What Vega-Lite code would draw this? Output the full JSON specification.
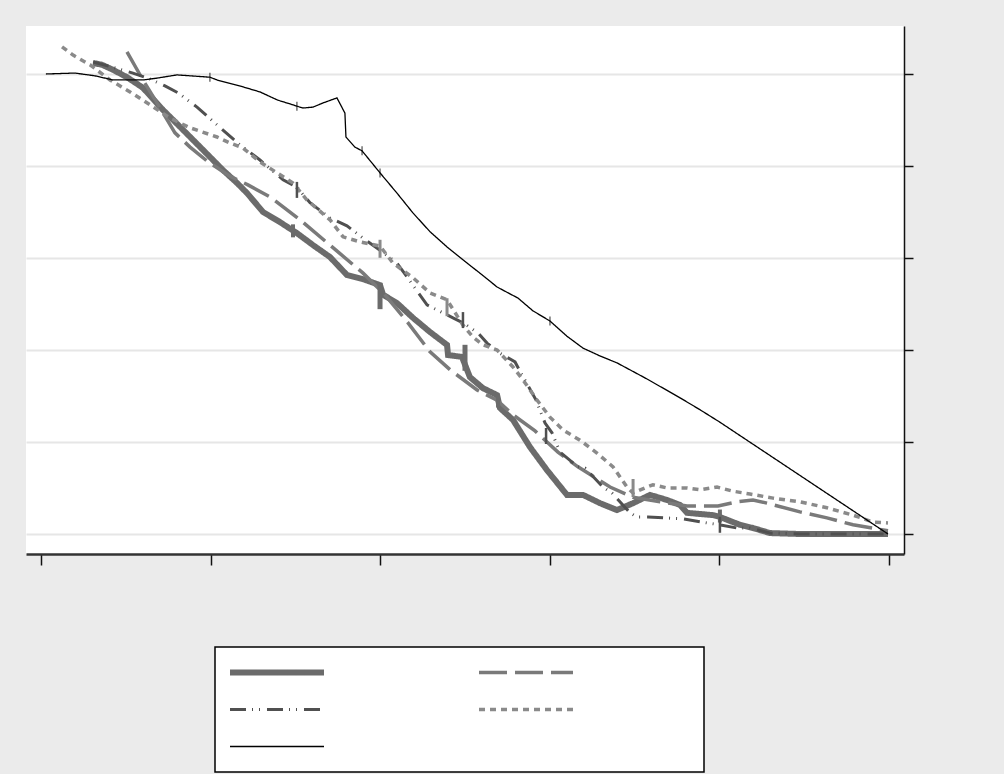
{
  "$schema": "https://vega.github.io/schema/vega-lite/v6.json",
  "width": 878,
  "height": 528,
  "autosize": {"type": "none"},
  "padding": {"left": 26, "top": 26, "right": 100, "bottom": 220},
  "background": "#ebebeb",
  "view": {"fill": "white", "stroke": null},
  "datasets": {
    "lines": [
      {"series":"s1","x":0.307,"y":1.024},{"series":"s1","x":0.360,"y":1.020},{"series":"s1","x":0.425,"y":1.009},{"series":"s1","x":0.507,"y":0.993},{"series":"s1","x":0.601,"y":0.970},{"series":"s1","x":0.719,"y":0.922},{"series":"s1","x":0.820,"y":0.885},{"series":"s1","x":0.955,"y":0.835},{"series":"s1","x":1.073,"y":0.791},{"series":"s1","x":1.156,"y":0.763},{"series":"s1","x":1.215,"y":0.741},{"series":"s1","x":1.309,"y":0.700},{"series":"s1","x":1.409,"y":0.678},{"series":"s1","x":1.509,"y":0.654},{"series":"s1","x":1.604,"y":0.628},{"series":"s1","x":1.704,"y":0.602},{"series":"s1","x":1.804,"y":0.563},{"series":"s1","x":1.899,"y":0.554},{"series":"s1","x":1.999,"y":0.541},{"series":"s1","x":2.017,"y":0.520},{"series":"s1","x":2.099,"y":0.502},{"series":"s1","x":2.193,"y":0.470},{"series":"s1","x":2.294,"y":0.439},{"series":"s1","x":2.394,"y":0.411},{"series":"s1","x":2.400,"y":0.389},{"series":"s1","x":2.482,"y":0.385},{"series":"s1","x":2.529,"y":0.341},{"series":"s1","x":2.606,"y":0.317},{"series":"s1","x":2.689,"y":0.302},{"series":"s1","x":2.706,"y":0.274},{"series":"s1","x":2.783,"y":0.248},{"series":"s1","x":2.883,"y":0.189},{"series":"s1","x":2.983,"y":0.139},{"series":"s1","x":3.101,"y":0.085},{"series":"s1","x":3.196,"y":0.085},{"series":"s1","x":3.296,"y":0.067},{"series":"s1","x":3.396,"y":0.052},{"series":"s1","x":3.491,"y":0.067},{"series":"s1","x":3.591,"y":0.085},{"series":"s1","x":3.691,"y":0.074},{"series":"s1","x":3.768,"y":0.063},{"series":"s1","x":3.809,"y":0.046},{"series":"s1","x":3.962,"y":0.041},{"series":"s1","x":4.003,"y":0.037},{"series":"s1","x":4.121,"y":0.020},{"series":"s1","x":4.198,"y":0.013},{"series":"s1","x":4.298,"y":0.002},{"series":"s1","x":4.475,"y":0.0},{"series":"s1","x":4.994,"y":0.0},
      {"series":"s2","x":0.507,"y":1.048},{"series":"s2","x":0.601,"y":0.987},{"series":"s2","x":0.684,"y":0.937},{"series":"s2","x":0.790,"y":0.872},{"series":"s2","x":0.879,"y":0.841},{"series":"s2","x":0.985,"y":0.809},{"series":"s2","x":1.114,"y":0.778},{"series":"s2","x":1.220,"y":0.759},{"series":"s2","x":1.350,"y":0.733},{"series":"s2","x":1.527,"y":0.683},{"series":"s2","x":1.739,"y":0.617},{"series":"s2","x":1.899,"y":0.567},{"series":"s2","x":2.028,"y":0.520},{"series":"s2","x":2.164,"y":0.459},{"series":"s2","x":2.294,"y":0.396},{"series":"s2","x":2.412,"y":0.357},{"series":"s2","x":2.571,"y":0.313},{"series":"s2","x":2.689,"y":0.291},{"series":"s2","x":2.783,"y":0.259},{"series":"s2","x":2.913,"y":0.224},{"series":"s2","x":3.048,"y":0.178},{"series":"s2","x":3.166,"y":0.146},{"series":"s2","x":3.355,"y":0.102},{"series":"s2","x":3.491,"y":0.080},{"series":"s2","x":3.650,"y":0.070},{"series":"s2","x":3.809,"y":0.061},{"series":"s2","x":3.992,"y":0.061},{"series":"s2","x":4.104,"y":0.070},{"series":"s2","x":4.198,"y":0.074},{"series":"s2","x":4.281,"y":0.067},{"series":"s2","x":4.475,"y":0.048},{"series":"s2","x":4.634,"y":0.035},{"series":"s2","x":4.788,"y":0.020},{"series":"s2","x":4.994,"y":0.007},
      {"series":"s3","x":0.307,"y":1.026},{"series":"s3","x":0.419,"y":1.015},{"series":"s3","x":0.542,"y":1.002},{"series":"s3","x":0.643,"y":0.989},{"series":"s3","x":0.731,"y":0.974},{"series":"s3","x":0.808,"y":0.959},{"series":"s3","x":0.920,"y":0.928},{"series":"s3","x":1.073,"y":0.878},{"series":"s3","x":1.173,"y":0.846},{"series":"s3","x":1.291,"y":0.813},{"series":"s3","x":1.427,"y":0.770},{"series":"s3","x":1.509,"y":0.754},{"series":"s3","x":1.586,"y":0.720},{"series":"s3","x":1.704,"y":0.687},{"series":"s3","x":1.804,"y":0.670},{"series":"s3","x":1.899,"y":0.643},{"series":"s3","x":1.999,"y":0.617},{"series":"s3","x":2.099,"y":0.589},{"series":"s3","x":2.193,"y":0.541},{"series":"s3","x":2.276,"y":0.498},{"series":"s3","x":2.335,"y":0.487},{"series":"s3","x":2.429,"y":0.470},{"series":"s3","x":2.488,"y":0.459},{"series":"s3","x":2.577,"y":0.437},{"series":"s3","x":2.630,"y":0.415},{"series":"s3","x":2.706,"y":0.393},{"series":"s3","x":2.795,"y":0.374},{"series":"s3","x":2.836,"y":0.346},{"series":"s3","x":2.919,"y":0.291},{"series":"s3","x":2.972,"y":0.241},{"series":"s3","x":3.013,"y":0.220},{"series":"s3","x":3.060,"y":0.178},{"series":"s3","x":3.166,"y":0.146},{"series":"s3","x":3.208,"y":0.143},{"series":"s3","x":3.314,"y":0.102},{"series":"s3","x":3.367,"y":0.089},{"series":"s3","x":3.473,"y":0.046},{"series":"s3","x":3.514,"y":0.037},{"series":"s3","x":3.579,"y":0.037},{"series":"s3","x":3.785,"y":0.033},{"series":"s3","x":3.927,"y":0.024},{"series":"s3","x":4.003,"y":0.020},{"series":"s3","x":4.104,"y":0.013},{"series":"s3","x":4.180,"y":0.013},{"series":"s3","x":4.298,"y":0.002},{"series":"s3","x":4.475,"y":0.0},{"series":"s3","x":4.994,"y":0.0},
      {"series":"s4","x":0.124,"y":1.059},{"series":"s4","x":0.189,"y":1.041},{"series":"s4","x":0.289,"y":1.020},{"series":"s4","x":0.407,"y":0.987},{"series":"s4","x":0.525,"y":0.961},{"series":"s4","x":0.643,"y":0.933},{"series":"s4","x":0.761,"y":0.904},{"series":"s4","x":0.879,"y":0.883},{"series":"s4","x":1.038,"y":0.863},{"series":"s4","x":1.114,"y":0.850},{"series":"s4","x":1.191,"y":0.839},{"series":"s4","x":1.291,"y":0.809},{"series":"s4","x":1.392,"y":0.785},{"series":"s4","x":1.486,"y":0.763},{"series":"s4","x":1.568,"y":0.726},{"series":"s4","x":1.704,"y":0.683},{"series":"s4","x":1.781,"y":0.646},{"series":"s4","x":1.881,"y":0.635},{"series":"s4","x":1.999,"y":0.626},{"series":"s4","x":2.075,"y":0.589},{"series":"s4","x":2.193,"y":0.557},{"series":"s4","x":2.294,"y":0.524},{"series":"s4","x":2.394,"y":0.509},{"series":"s4","x":2.488,"y":0.454},{"series":"s4","x":2.547,"y":0.428},{"series":"s4","x":2.606,"y":0.411},{"series":"s4","x":2.689,"y":0.400},{"series":"s4","x":2.783,"y":0.363},{"series":"s4","x":2.842,"y":0.335},{"series":"s4","x":2.925,"y":0.291},{"series":"s4","x":3.001,"y":0.254},{"series":"s4","x":3.078,"y":0.226},{"series":"s4","x":3.178,"y":0.204},{"series":"s4","x":3.278,"y":0.176},{"series":"s4","x":3.373,"y":0.146},{"series":"s4","x":3.455,"y":0.102},{"series":"s4","x":3.491,"y":0.089},{"series":"s4","x":3.573,"y":0.102},{"series":"s4","x":3.608,"y":0.107},{"series":"s4","x":3.691,"y":0.100},{"series":"s4","x":3.809,"y":0.100},{"series":"s4","x":3.886,"y":0.096},{"series":"s4","x":3.986,"y":0.102},{"series":"s4","x":4.080,"y":0.093},{"series":"s4","x":4.180,"y":0.087},{"series":"s4","x":4.316,"y":0.078},{"series":"s4","x":4.475,"y":0.070},{"series":"s4","x":4.634,"y":0.057},{"series":"s4","x":4.788,"y":0.041},{"series":"s4","x":4.906,"y":0.026},{"series":"s4","x":4.994,"y":0.024},
      {"series":"s5","x":0.029,"y":1.000},{"series":"s5","x":0.200,"y":1.002},{"series":"s5","x":0.318,"y":0.996},{"series":"s5","x":0.425,"y":0.987},{"series":"s5","x":0.601,"y":0.987},{"series":"s5","x":0.684,"y":0.991},{"series":"s5","x":0.802,"y":0.998},{"series":"s5","x":0.996,"y":0.993},{"series":"s5","x":1.038,"y":0.987},{"series":"s5","x":1.191,"y":0.972},{"series":"s5","x":1.291,"y":0.961},{"series":"s5","x":1.397,"y":0.943},{"series":"s5","x":1.468,"y":0.935},{"series":"s5","x":1.509,"y":0.930},{"series":"s5","x":1.545,"y":0.926},{"series":"s5","x":1.604,"y":0.928},{"series":"s5","x":1.663,"y":0.937},{"series":"s5","x":1.745,"y":0.948},{"series":"s5","x":1.792,"y":0.915},{"series":"s5","x":1.798,"y":0.863},{"series":"s5","x":1.851,"y":0.841},{"series":"s5","x":1.893,"y":0.833},{"series":"s5","x":1.999,"y":0.785},{"series":"s5","x":2.099,"y":0.741},{"series":"s5","x":2.193,"y":0.698},{"series":"s5","x":2.294,"y":0.657},{"series":"s5","x":2.394,"y":0.624},{"series":"s5","x":2.488,"y":0.596},{"series":"s5","x":2.588,"y":0.567},{"series":"s5","x":2.689,"y":0.537},{"series":"s5","x":2.765,"y":0.522},{"series":"s5","x":2.812,"y":0.513},{"series":"s5","x":2.901,"y":0.485},{"series":"s5","x":3.001,"y":0.463},{"series":"s5","x":3.101,"y":0.430},{"series":"s5","x":3.196,"y":0.404},{"series":"s5","x":3.296,"y":0.387},{"series":"s5","x":3.396,"y":0.372},{"series":"s5","x":3.573,"y":0.337},{"series":"s5","x":3.768,"y":0.296},{"series":"s5","x":3.886,"y":0.270},{"series":"s5","x":4.003,"y":0.243},{"series":"s5","x":4.994,"y":0.0}
    ],
    "ticks": [
      {"series":"s5","x":0.996,"y":0.993},{"series":"s5","x":1.509,"y":0.930},{"series":"s5","x":1.893,"y":0.833},{"series":"s5","x":1.999,"y":0.785},{"series":"s5","x":3.001,"y":0.463},
      {"series":"s1big","x":1.999,"y":0.517},{"series":"s1big","x":2.500,"y":0.383},
      {"series":"s1","x":1.486,"y":0.659},{"series":"s1","x":2.695,"y":0.289},{"series":"s1","x":4.003,"y":0.039},
      {"series":"s3","x":1.509,"y":0.748},{"series":"s3","x":2.488,"y":0.465},{"series":"s3","x":2.978,"y":0.213},{"series":"s3","x":4.003,"y":0.020},
      {"series":"s4","x":1.999,"y":0.620},{"series":"s4","x":2.394,"y":0.493},{"series":"s4","x":3.491,"y":0.100}
    ]
  },
  "encoding": {
    "x": {"field": "x", "type": "quantitative", "scale": {"domain": [-0.0884, 5.0884], "nice": false, "zero": false},
      "axis": {"orient": "bottom", "values": [0,1,2,3,4,5], "labels": false, "title": null, "grid": false, "domainColor": "#333333", "domainWidth": 2.5, "tickColor": "#111111", "tickWidth": 1.5, "tickSize": 11}},
    "y": {"field": "y", "type": "quantitative", "scale": {"domain": [-0.0435, 1.1043], "nice": false, "zero": false},
      "axis": {"orient": "right", "values": [0,0.2,0.4,0.6,0.8,1.0], "labels": false, "title": null, "grid": true, "gridColor": "#e6e6e6", "gridWidth": 2, "domainColor": "#111111", "domainWidth": 1.5, "tickColor": "#111111", "tickWidth": 1.5, "tickSize": 9}}
  },
  "layer": [
    {
      "data": {"name": "lines"},
      "mark": {"type": "line", "strokeCap": "butt", "strokeJoin": "miter"},
      "encoding": {
        "color": {"field": "series", "type": "nominal",
          "scale": {"domain": ["s1","s2","s3","s4","s5"], "range": ["#6b6b6b","#7a7a7a","#505050","#8a8a8a","#000000"]},
          "legend": {"orient": "none", "legendX": 189, "legendY": 621, "direction": "horizontal", "columns": 2, "labelExpr": "''"}},
        "strokeDash": {"field": "series", "type": "nominal",
          "scale": {"domain": ["s1","s2","s3","s4","s5"], "range": [[1,0],[28,8],[16,6,1,6,1,7],[6,5],[1,0]]},
          "legend": {"orient": "none", "legendX": 189, "legendY": 621, "direction": "horizontal", "columns": 2, "labelExpr": "''"}},
        "strokeWidth": {"field": "series", "type": "nominal",
          "scale": {"type": "ordinal", "domain": ["s1","s2","s3","s4","s5"], "range": [6,3.5,3,3.5,1.3]},
          "legend": {"orient": "none", "legendX": 189, "legendY": 621, "direction": "horizontal", "columns": 2, "labelExpr": "''"}}
      }
    },
    {
      "data": {"name": "ticks"},
      "transform": [{"filter": "datum.series === 's5'"}],
      "mark": {"type": "tick", "orient": "vertical", "color": "#000000", "thickness": 1.2, "size": 9}
    },
    {
      "data": {"name": "ticks"},
      "transform": [{"filter": "datum.series === 's1big'"}],
      "mark": {"type": "tick", "orient": "vertical", "color": "#6b6b6b", "thickness": 5, "size": 26, "opacity": 1}
    },
    {
      "data": {"name": "ticks"},
      "transform": [{"filter": "datum.series === 's1'"}],
      "mark": {"type": "tick", "orient": "vertical", "color": "#6b6b6b", "thickness": 4, "size": 13, "opacity": 1}
    },
    {
      "data": {"name": "ticks"},
      "transform": [{"filter": "datum.series === 's3'"}],
      "mark": {"type": "tick", "orient": "vertical", "color": "#505050", "thickness": 2.5, "size": 16, "opacity": 1}
    },
    {
      "data": {"name": "ticks"},
      "transform": [{"filter": "datum.series === 's4'"}],
      "mark": {"type": "tick", "orient": "vertical", "color": "#8a8a8a", "thickness": 3, "size": 18, "opacity": 1}
    }
  ],
  "config": {
    "legend": {
      "title": null,
      "columns": 2,
      "direction": "horizontal",
      "symbolType": "stroke",
      "symbolSize": 8836,
      "clipHeight": 27,
      "rowPadding": 10,
      "columnPadding": 33,
      "labelOffset": 116,
      "labelFontSize": 10,
      "labelLimit": 400,
      "padding": 12,
      "fillColor": "white",
      "strokeColor": "#000000",
      "strokeWidth": 1.5,
      "cornerRadius": 0
    }
  }
}
